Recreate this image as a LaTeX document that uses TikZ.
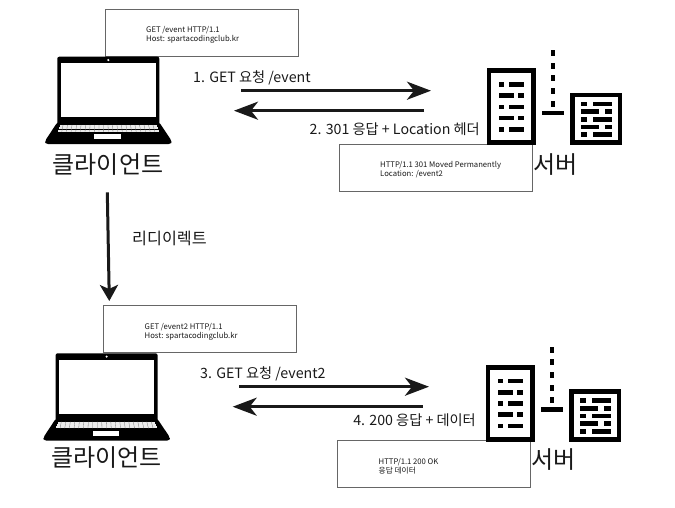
\documentclass[tikz,border=0pt]{standalone}
\usepackage{fontspec}
\setmainfont{Noto Sans CJK KR}
\usetikzlibrary{arrows.meta}
\definecolor{ink}{gray}{0.1}
\tikzset{
  msgbox/.style={draw=black!60,line width=0.7pt,fill=white},
  msgtext/.style={anchor=west,inner sep=0pt,font=\fontsize{7.7}{9}\selectfont,align=left,text=ink,text depth=0pt},
  lbl/.style={inner sep=0pt,font=\fontsize{14.2}{17}\selectfont,text=ink},
  lblbig/.style={inner sep=0pt,font=\fontsize{16.2}{19}\selectfont,text=ink},
  big/.style={inner sep=0pt,font=\fontsize{24}{27}\selectfont,text=ink},
  flow/.style={draw=ink,line width=3pt,-{Stealth[length=24pt,width=18pt,inset=7pt]}},
  redirectflow/.style={draw=ink,line width=3pt,-{Stealth[length=16pt,width=18pt,inset=4pt]}}
}
\newcommand{\laptopicon}[2]{%
\begin{scope}[shift={(#1,#2)}]
  \fill[black,rounded corners=2pt] (57.3,56.7) rectangle (159.3,125);
  \fill[white] (61,63) rectangle (156,117);
  \fill[white] (108.3,60) circle (1.2);
  \fill[black,rounded corners=2.5pt] (57.5,122) -- (159,122) -- (171.7,141) -- (171.2,144) -- (45.5,144) -- (45,141) -- cycle;
  \foreach \row/\xa/\xb in {125/60/157,127.3/59/158,129.6/58/159}{
    \fill[black!8] (\xa,\row) rectangle (\xb,\row+2.1);
  }
  \foreach \k in {0,...,20}{
    \draw[black!55,line width=0.3pt] ({63+\k*4.5},125) -- ({61.8+\k*4.65},131.7);
  }
  \fill[white] (94.3,134.3) rectangle (120.7,139.3);
\end{scope}}
\newcommand{\servericon}[2]{%
\begin{scope}[shift={(#1,#2)}]
  \draw[black,line width=4.6pt] (489,70.6) rectangle (533.4,142.7);
  \foreach \y/\ax/\bx/\cx/\dx in {84.3/499/504.3/509/523.7,95.7/499/513.7/518.3/523.7,107/499/504.3/509/523.7,118/499/513.7/518.3/523.7,129.3/499/504.3/509/523.7}{
    \fill[black] (\ax,\y-2.4) rectangle (\bx,\y+2.4);
    \fill[black] (\cx,\y-2.4) rectangle (\dx,\y+2.4);
  }
  \draw[black,line width=4.6pt] (572.3,95) rectangle (620,142.7);
  \foreach \y/\ax/\bx/\cx/\dx in {104/580.7/587.3/593/611.7,111.7/580.7/599.3/605.3/611.7,119.3/580.7/587.3/593/611.7,127/580.7/599.3/605.3/611.7,134.7/580.7/587.3/593/611.7}{
    \fill[black] (\ax,\y-2.3) rectangle (\bx,\y+2.3);
    \fill[black] (\cx,\y-2.3) rectangle (\dx,\y+2.3);
  }
  \foreach \y in {53,65.7,78.3,91,103.7}{
    \fill[black] (550.7,\y-3) rectangle (555.3,\y+3);
  }
  \fill[black] (542,110.7) rectangle (563.7,115.3);
\end{scope}}
\begin{document}
\begin{tikzpicture}[x=1pt,y=-1pt]
\useasboundingbox (0,0) rectangle (675,507);
\fill[white] (0,0) rectangle (675,507);
% boxes
\coordinate (b1a) at (105.3,9.3);   \coordinate (b1b) at (298.3,56);
\coordinate (b2a) at (339,144.3);   \coordinate (b2b) at (532.3,191.7);
\coordinate (b3a) at (103.3,305.3); \coordinate (b3b) at (296.7,352.3);
\coordinate (b4a) at (337.3,440.7); \coordinate (b4b) at (530.7,487.7);
\draw[msgbox] (b1a) rectangle (b1b);
\draw[msgbox] (b2a) rectangle (b2b);
\draw[msgbox] (b3a) rectangle (b3b);
\draw[msgbox] (b4a) rectangle (b4b);
\laptopicon{0}{0}
\laptopicon{-1.7}{296.6}
\servericon{0}{0}
\servericon{-1}{296.7}
% box texts
\node[msgtext] (t1) at (146,33.5) {GET /event HTTP/1.1\\Host: spartacodingclub.kr};
\node[msgtext] (t2) at (380,168.5) {HTTP/1.1 301 Moved Permanently\\Location: /event2};
\node[msgtext] (t3) at (144.5,330.5) {GET /event2 HTTP/1.1\\Host: spartacodingclub.kr};
\node[msgtext] (t4) at (378.5,465.5) {HTTP/1.1 200 OK\\응답 데이터};
% labels
\node[lbl,anchor=west] (l1) at (193,78) {1. GET 요청 /event};
\node[lbl,anchor=east] (l2) at (480,129) {2. 301 응답 + Location 헤더};
\node[lbl,anchor=west] (l3) at (200,374) {3. GET 요청 /event2};
\node[lbl,anchor=east] (l4) at (476,420) {4. 200 응답 + 데이터};
\node[lblbig,anchor=west] (lr) at (132,238) {리디이렉트};
\node[big] (c1) at (108,165) {클라이언트};
\node[big] (c2) at (106.5,458) {클라이언트};
\node[big] (s1) at (555.5,165) {서버};
\node[big] (s2) at (553.5,460) {서버};
% connectors
\coordinate (a1s) at (241,90.7);   \coordinate (a1e) at (431,90.7);
\coordinate (a2s) at (424,110.7);  \coordinate (a2e) at (234,110.7);
\coordinate (a3s) at (239,386.7);  \coordinate (a3e) at (429,386.7);
\coordinate (a4s) at (422.7,406.7);\coordinate (a4e) at (232.7,406.7);
\coordinate (ars) at (107.3,192.3);\coordinate (are) at (109.3,301);
\draw[flow] (a1s) -- (a1e);
\draw[flow] (a2s) -- (a2e);
\draw[flow] (a3s) -- (a3e);
\draw[flow] (a4s) -- (a4e);
\draw[redirectflow] (ars) -- (are);
\end{tikzpicture}
\end{document}
